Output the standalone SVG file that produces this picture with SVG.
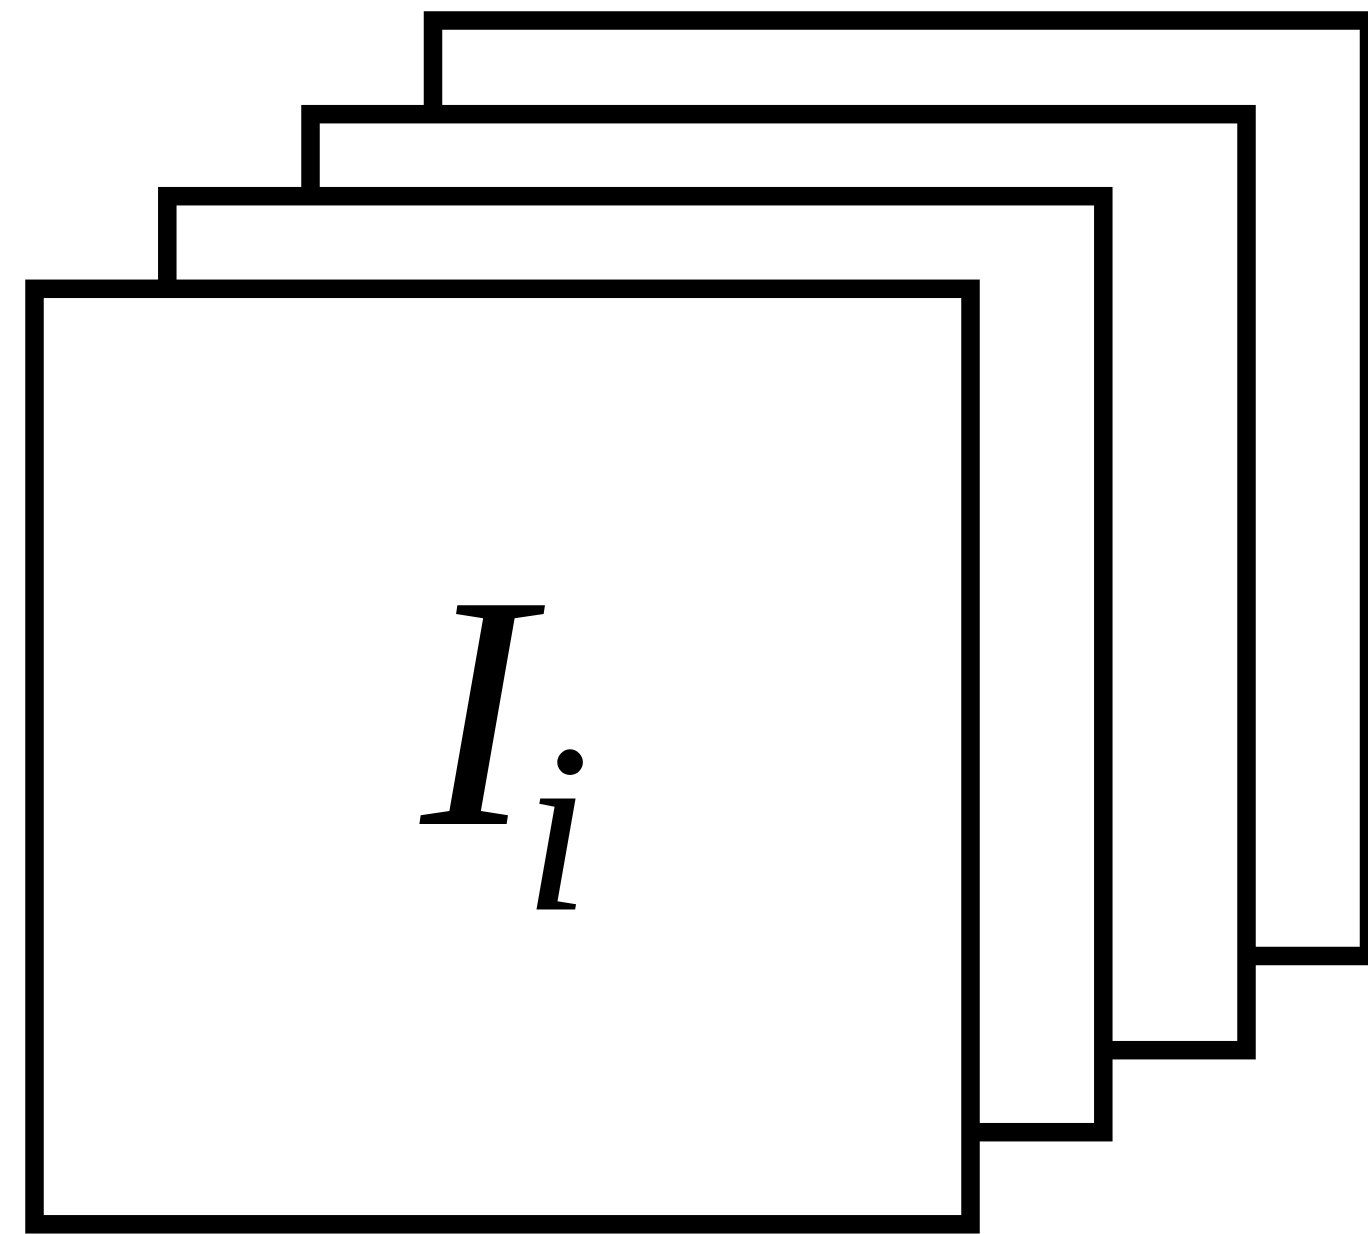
<svg xmlns="http://www.w3.org/2000/svg" width="1368" height="1234" viewBox="0 0 1368 1234">
<style>
.sheet{fill:#fff;stroke:#000;stroke-width:18.5}
.lbl{font-family:"Liberation Serif","Times New Roman",serif;font-style:italic;fill:#000}
</style>
<rect width="1368" height="1234" fill="#fff"/>
<g id="sheet4"><rect class="sheet" x="433" y="20.5" width="936" height="935.5"/></g>
<g id="sheet3"><rect class="sheet" x="310.5" y="114.2" width="936" height="936"/></g>
<g id="sheet2"><rect class="sheet" x="167.3" y="196.2" width="936" height="936"/></g>
<g id="sheet1"><rect class="sheet" x="34.5" y="288.8" width="936" height="935.5"/>
<text class="lbl" x="420.7" y="824" font-size="334">I</text>
<text class="lbl" x="523" y="910.3" font-size="242">i</text>
</g>
<g id="connectors"></g>
</svg>
